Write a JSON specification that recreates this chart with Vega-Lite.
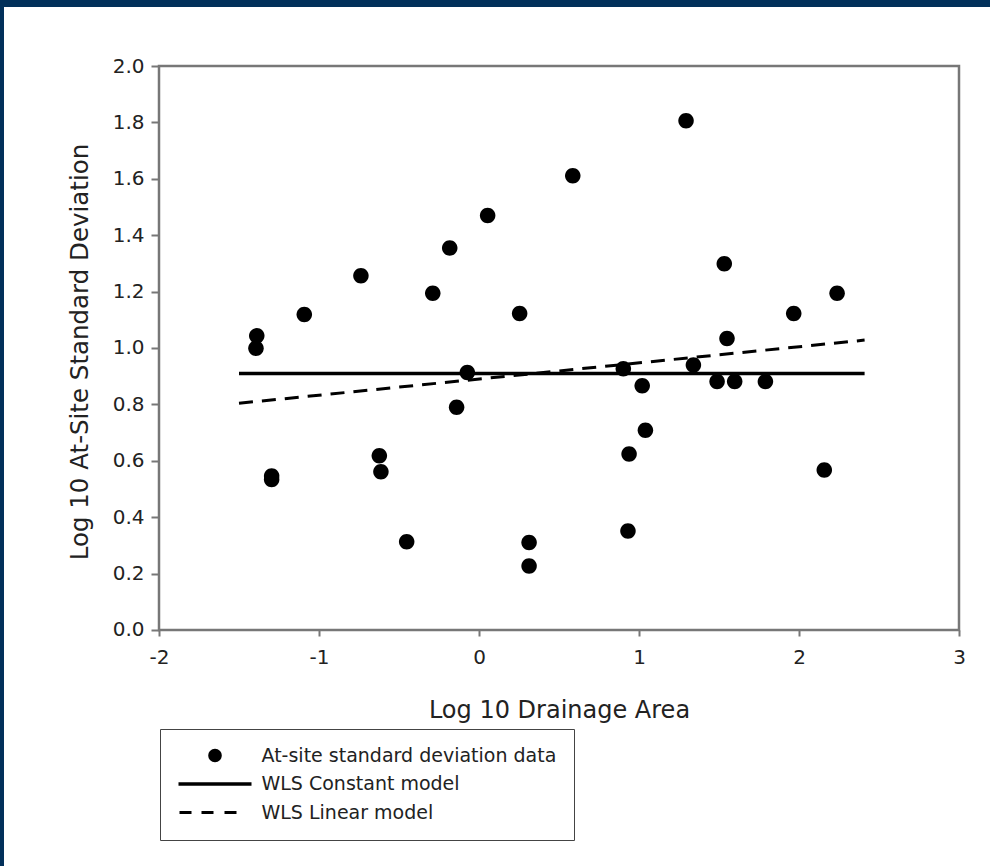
{
  "$schema": "https://vega.github.io/schema/vega-lite/v6.json",
  "width": 986,
  "height": 859,
  "autosize": {"type": "none"},
  "padding": {"left": 4, "top": 7, "right": 0, "bottom": 0},
  "background": "#02305a",
  "config": {
    "view": {"fill": "white", "stroke": null},
    "font": "DejaVu Sans"
  },
  "layer": [
    {
      "data": {"values": [{"x0": -2, "x1": 3, "y0": 0, "y1": 2}]},
      "mark": {"type": "rect", "filled": false, "stroke": "#777777", "strokeWidth": 2.5},
      "encoding": {
        "x": {"field": "x0", "type": "quantitative", "scale": {"domain": [-2.96875, 3.19375], "nice": false, "zero": false}},
        "x2": {"field": "x1"},
        "y": {"field": "y0", "type": "quantitative", "scale": {"domain": [-0.83688, 2.20922], "nice": false, "zero": false}},
        "y2": {"field": "y1"}
      }
    },
    {
      "data": {"values": [
        {"model": "WLS Constant model", "x": -1.5, "y": 0.91},
        {"model": "WLS Constant model", "x": 2.41, "y": 0.91}
      ]},
      "mark": {"type": "line", "color": "black", "strokeWidth": 3.5, "strokeCap": "butt"},
      "encoding": {
        "x": {"field": "x", "type": "quantitative"},
        "y": {"field": "y", "type": "quantitative"}
      }
    },
    {
      "data": {"values": [
        {"model": "WLS Linear model", "x": -1.5, "y": 0.804},
        {"model": "WLS Linear model", "x": 2.41, "y": 1.028}
      ]},
      "mark": {"type": "line", "color": "black", "strokeWidth": 3, "strokeDash": [14, 9], "strokeCap": "butt"},
      "encoding": {
        "x": {"field": "x", "type": "quantitative"},
        "y": {"field": "y", "type": "quantitative"}
      }
    },
    {
      "data": {"values": [
        {"series": "At-site standard deviation data", "x": -1.389, "y": 1.043},
        {"series": "At-site standard deviation data", "x": -1.394, "y": 0.999},
        {"series": "At-site standard deviation data", "x": -1.092, "y": 1.119},
        {"series": "At-site standard deviation data", "x": -0.738, "y": 1.256},
        {"series": "At-site standard deviation data", "x": -1.296, "y": 0.546},
        {"series": "At-site standard deviation data", "x": -1.296, "y": 0.534},
        {"series": "At-site standard deviation data", "x": -0.623, "y": 0.618},
        {"series": "At-site standard deviation data", "x": -0.613, "y": 0.561},
        {"series": "At-site standard deviation data", "x": -0.452, "y": 0.313},
        {"series": "At-site standard deviation data", "x": -0.289, "y": 1.194},
        {"series": "At-site standard deviation data", "x": -0.183, "y": 1.355},
        {"series": "At-site standard deviation data", "x": -0.14, "y": 0.79},
        {"series": "At-site standard deviation data", "x": -0.073, "y": 0.913},
        {"series": "At-site standard deviation data", "x": 0.054, "y": 1.47},
        {"series": "At-site standard deviation data", "x": 0.254, "y": 1.122},
        {"series": "At-site standard deviation data", "x": 0.313, "y": 0.31},
        {"series": "At-site standard deviation data", "x": 0.313, "y": 0.227},
        {"series": "At-site standard deviation data", "x": 0.586, "y": 1.611},
        {"series": "At-site standard deviation data", "x": 0.902, "y": 0.926},
        {"series": "At-site standard deviation data", "x": 0.931, "y": 0.351},
        {"series": "At-site standard deviation data", "x": 0.938, "y": 0.624},
        {"series": "At-site standard deviation data", "x": 1.02, "y": 0.866},
        {"series": "At-site standard deviation data", "x": 1.04, "y": 0.708},
        {"series": "At-site standard deviation data", "x": 1.294, "y": 1.806},
        {"series": "At-site standard deviation data", "x": 1.34, "y": 0.94},
        {"series": "At-site standard deviation data", "x": 1.488, "y": 0.881},
        {"series": "At-site standard deviation data", "x": 1.533, "y": 1.299},
        {"series": "At-site standard deviation data", "x": 1.55, "y": 1.034},
        {"series": "At-site standard deviation data", "x": 1.598, "y": 0.881},
        {"series": "At-site standard deviation data", "x": 1.79, "y": 0.881},
        {"series": "At-site standard deviation data", "x": 1.967, "y": 1.122},
        {"series": "At-site standard deviation data", "x": 2.158, "y": 0.567},
        {"series": "At-site standard deviation data", "x": 2.238, "y": 1.194}
      ]},
      "mark": {"type": "point", "filled": true, "color": "black", "opacity": 1, "size": 132},
      "encoding": {
        "x": {
          "field": "x", "type": "quantitative",
          "axis": {
            "values": [-2, -1, 0, 1, 2, 3],
            "labelExpr": "'' + datum.value",
            "offset": -236,
            "domain": false, "grid": false,
            "tickSize": 6, "tickWidth": 2, "tickColor": "#777777",
            "labelFont": "DejaVu Sans", "labelFontSize": 20, "labelColor": "#222222",
            "labelPadding": 11, "labelFlush": false, "labelOverlap": false, "labelBound": false,
            "title": "Log 10 Drainage Area",
            "titleFont": "DejaVu Sans", "titleFontSize": 24, "titleFontWeight": "normal", "titleColor": "#222222",
            "titleX": 555, "titleY": 87, "titleBaseline": "alphabetic", "titleAlign": "center"
          }
        },
        "y": {
          "field": "y", "type": "quantitative",
          "axis": {
            "values": [0, 0.2, 0.4, 0.6, 0.8, 1.0, 1.2, 1.4, 1.6, 1.8, 2.0],
            "format": ".1f",
            "offset": -155,
            "domain": false, "grid": false,
            "tickSize": 8, "tickWidth": 2, "tickColor": "#777777",
            "labelFont": "DejaVu Sans", "labelFontSize": 20, "labelColor": "#222222",
            "labelPadding": 7, "labelFlush": false, "labelOverlap": false, "labelBound": false,
            "title": "Log 10 At-Site Standard Deviation",
            "titleFont": "DejaVu Sans", "titleFontSize": 24.5, "titleFontWeight": "normal", "titleColor": "#222222",
            "titleAngle": 270, "titleX": -72, "titleY": 344.5, "titleBaseline": "alphabetic", "titleAlign": "center"
          }
        },
        "shape": {
          "field": "series", "type": "nominal",
          "scale": {
            "domain": ["At-site standard deviation data", "WLS Constant model", "WLS Linear model"],
            "range": [
              "M-1.35,0A1.35,1.35,0,1,1,1.35,0A1.35,1.35,0,1,1,-1.35,0Z",
              "M-7.3,-0.35H7.3V0.35H-7.3Z",
              "M-7.1,-0.3H-4.7V0.3H-7.1ZM-2.7,-0.3H-0.3V0.3H-2.7ZM1.9,-0.3H4.3V0.3H1.9Z"
            ]
          },
          "legend": {
            "title": null,
            "orient": "none",
            "legendX": 156,
            "legendY": 722,
            "direction": "vertical",
            "fillColor": "white",
            "strokeColor": "#444444",
            "padding": 17,
            "cornerRadius": 0,
            "rowPadding": 8.5,
            "symbolSize": 100,
            "symbolOffset": 28.5,
            "symbolFillColor": "black",
            "labelFont": "DejaVu Sans",
            "labelFontSize": 19,
            "labelColor": "#222222",
            "labelOffset": 37,
            "labelLimit": 500,
            "encode": {
              "legend": {
                "strokeWidth": {"value": 2}
              },
              "symbols": {
                "fill": {"value": "black"},
                "opacity": {"value": 1}
              }
            }
          }
        }
      }
    }
  ]
}
